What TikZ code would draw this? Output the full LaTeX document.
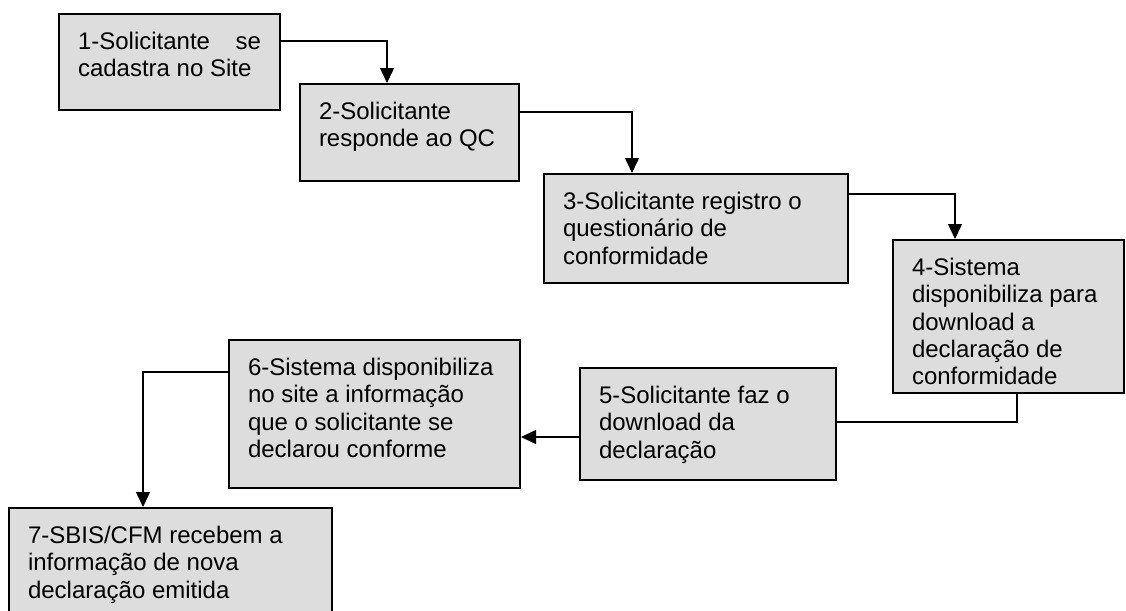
\documentclass[tikz,border=0pt]{standalone}
\usepackage{fontspec}
\setmainfont{Liberation Sans}
\usetikzlibrary{arrows.meta,calc}
\definecolor{boxfill}{RGB}{221,221,221}
% first line of every box sits a fixed distance below the top edge
\newcommand{\firstline}{\rule{0pt}{35.5pt}}
% #1 inner width, #2 box height, #3 text
\newcommand{\boxtext}[3]{\parbox[c][#2pt][t]{#1pt}{\raggedright\firstline #3}}
\tikzset{
  stepbox/.style={draw=black, line width=2pt, fill=boxfill, anchor=north west,
    inner xsep=19pt, inner ysep=0pt, font=\fontsize{24}{27.3}\selectfont},
  link/.style={line width=1.5pt, draw=black},
  linkarrow/.style={link, -{Triangle[length=15pt,width=14pt]}},
}
\begin{document}
\begin{tikzpicture}[x=1pt,y=-1pt]
\useasboundingbox (0,0) rectangle (1126,610);
\clip (0,0) rectangle (1126,610);
\fill[white] (0,0) rectangle (1126,610);

\node[stepbox] (b1) at (58,13)  {\boxtext{183}{96}{1-Solicitante\hfill se\\cadastra no Site}};
\node[stepbox] (b2) at (299,83) {\boxtext{181}{97}{2-Solicitante\\responde ao QC}};
\node[stepbox] (b3) at (543,173) {\boxtext{266}{109}{3-Solicitante registro o\\questionário de\\conformidade}};
\node[stepbox] (b4) at (892,239) {\boxtext{193}{153}{4-Sistema\\disponibiliza para\\download a\\declaração de\\conformidade}};
\node[stepbox] (b5) at (579,367) {\boxtext{218}{112}{5-Solicitante faz o\\download da\\declaração}};
\node[stepbox] (b6) at (228,339) {\boxtext{253}{148}{6-Sistema disponibiliza\\no site a informação\\que o solicitante se\\declarou conforme}};
\node[stepbox] (b7) at (8,507) {\boxtext{285}{140}{7-SBIS/CFM recebem a\\informação de nova\\declaração emitida}};

\draw[linkarrow] ($(b1.north east)+(0,28)$) -| ($(b2.north west)+(88,0)$);
\draw[linkarrow] ($(b2.north east)+(0,29)$) -| ($(b3.north west)+(89,0)$);
\draw[linkarrow] ($(b3.north east)+(0,21)$) -| ($(b4.north west)+(63,0)$);
\draw[link] ($(b4.south west)+(125,0)$) |- ($(b5.north east)+(0,55)$);
\draw[linkarrow] ($(b5.north west)+(0,70)$) coordinate (p56) -- (p56 -| b6.east);
\draw[linkarrow] ($(b6.north west)+(0,33)$) -| ($(b7.north west)+(135,0)$);
\end{tikzpicture}
\end{document}
